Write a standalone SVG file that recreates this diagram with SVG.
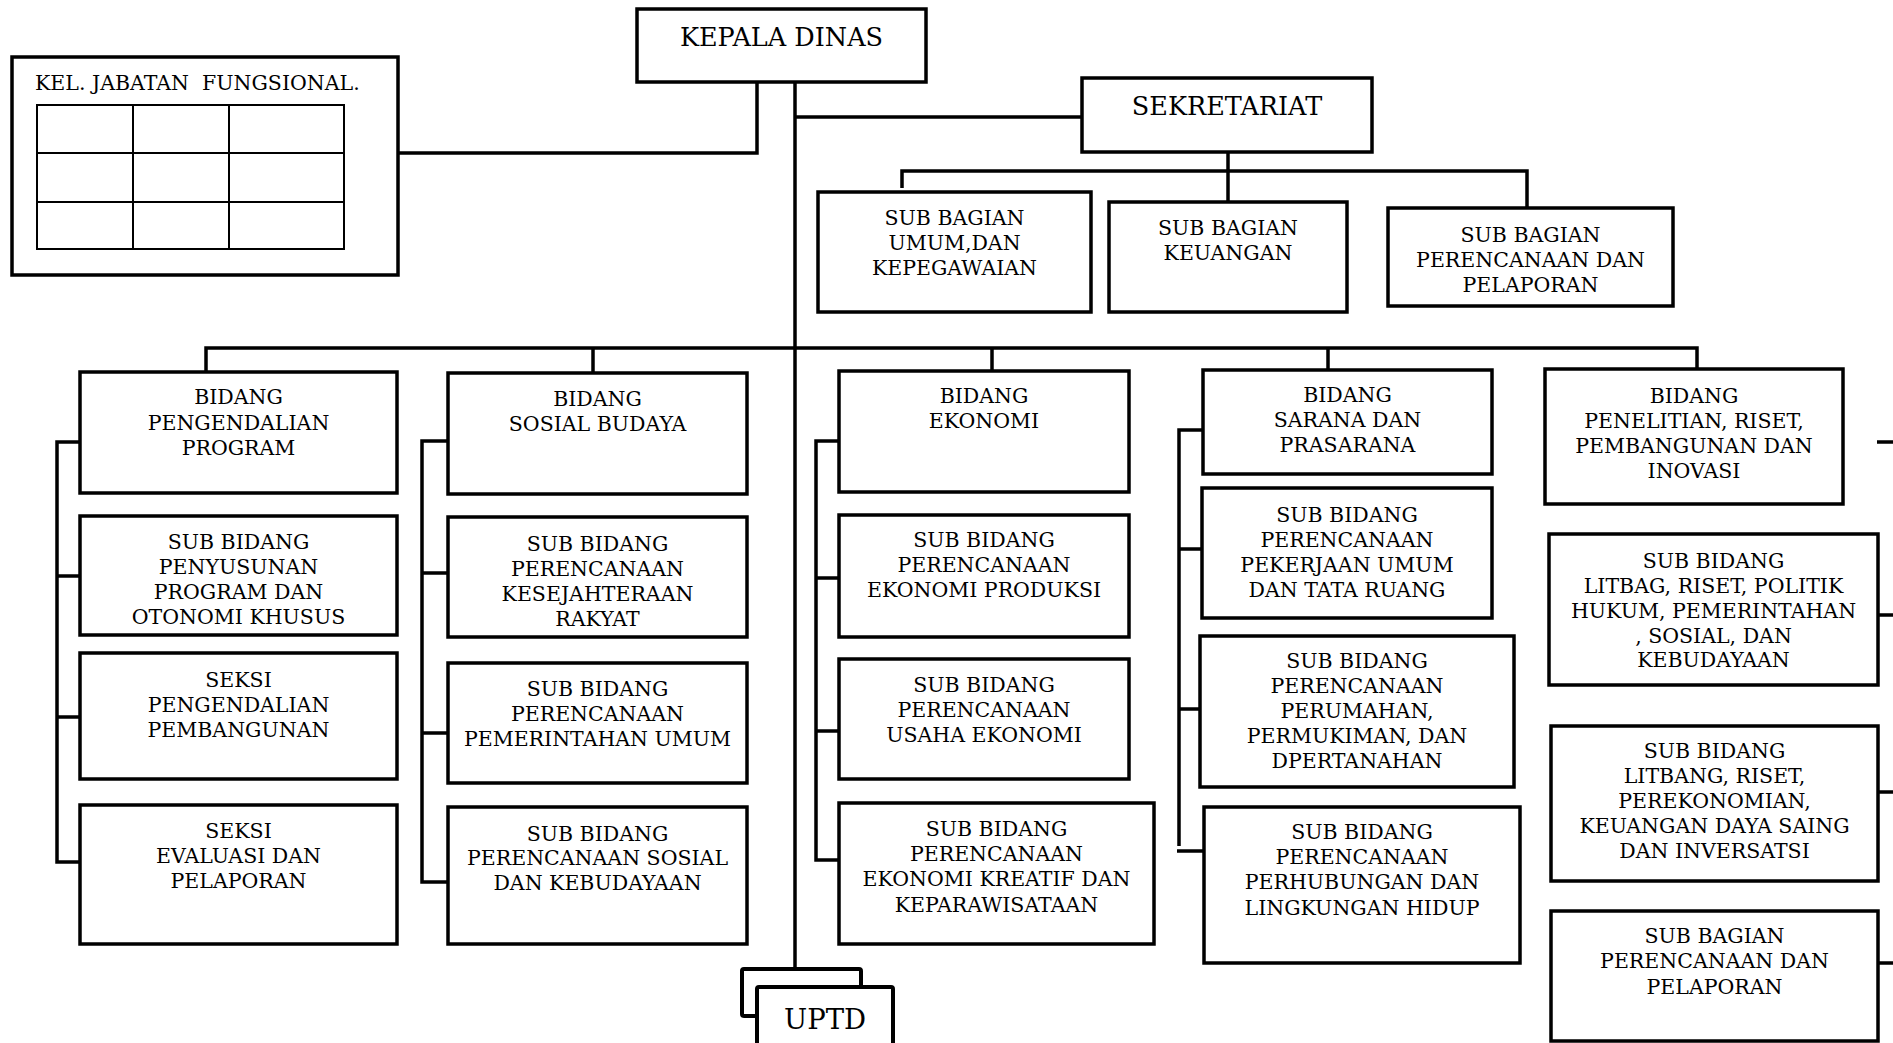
<svg xmlns="http://www.w3.org/2000/svg" width="1893" height="1043" viewBox="0 0 1893 1043">
<style>
.box{fill:#fff;stroke:#000;stroke-width:3.5}
.grid{fill:none;stroke:#000;stroke-width:2}
.con{fill:none;stroke:#000;stroke-width:3.5;stroke-linejoin:miter}
text{font-family:"DejaVu Serif","Liberation Serif",serif;font-size:20.5px;fill:#000;text-anchor:middle}
.big{font-size:25.5px}
.uptd{font-size:27.5px}
.left{text-anchor:start}
</style>
<rect width="1893" height="1043" fill="#fff"/>
<g id="connectors">
<path class="con" d="M398,153 H757 V82"/>
<path class="con" d="M795,82 V968"/>
<path class="con" d="M795,117 H1082"/>
<path class="con" d="M1228,152 V202"/>
<path class="con" d="M902,188 V171 H1527 V208"/>
<path class="con" d="M206,372 V348 H1697 V369"/>
<path class="con" d="M593,348 V373"/>
<path class="con" d="M992,348 V371"/>
<path class="con" d="M1328,348 V370"/>
<path class="con" d="M80,442 H57 V862 H80 M57,576 H80 M57,717 H80"/>
<path class="con" d="M448,441 H422 V882 H448 M422,573 H448 M422,733 H448"/>
<path class="con" d="M839,441 H816 V860 H839 M816,578 H839 M816,731 H839"/>
<path class="con" d="M1203,430 H1179 V846 M1179,549 H1202 M1179,709 H1200 M1177,851 H1204"/>
<path class="con" d="M1877,442 H1893 M1878,615 H1893 M1878,792 H1893 M1878,963 H1893"/>
</g>
<g id="kel-jabatan">
<rect class="box" x="12" y="57" width="386" height="218"/>
<text class="left" x="35" y="90" xml:space="preserve">KEL. JABATAN  FUNGSIONAL.</text>
<rect class="grid" x="37" y="105" width="307" height="144"/>
<path class="grid" d="M133,105 V249 M229,105 V249 M37,153 H344 M37,202 H344"/>
</g>
<g id="kepala-dinas">
<rect class="box" x="637" y="9" width="289" height="73"/>
<text class="big" x="781.5" y="46">KEPALA DINAS</text>
</g>
<g id="sekretariat">
<rect class="box" x="1082" y="78" width="290" height="74"/>
<text class="big" x="1227" y="115">SEKRETARIAT</text>
</g>
<g id="sub-bagian-umum">
<rect class="box" x="818" y="192" width="273" height="120"/>
<text x="954.5" y="225">SUB BAGIAN</text>
<text x="954.5" y="250">UMUM,DAN</text>
<text x="954.5" y="275">KEPEGAWAIAN</text>
</g>
<g id="sub-bagian-keuangan">
<rect class="box" x="1109" y="202" width="238" height="110"/>
<text x="1228" y="235">SUB BAGIAN</text>
<text x="1228" y="260">KEUANGAN</text>
</g>
<g id="sub-bagian-perencanaan-sek">
<rect class="box" x="1388" y="208" width="285" height="98"/>
<text x="1530.5" y="242">SUB BAGIAN</text>
<text x="1530.5" y="267">PERENCANAAN DAN</text>
<text x="1530.5" y="292">PELAPORAN</text>
</g>
<g id="bidang-pengendalian">
<rect class="box" x="80" y="372" width="317" height="121"/>
<text x="238.5" y="404">BIDANG</text>
<text x="238.5" y="430">PENGENDALIAN</text>
<text x="238.5" y="455">PROGRAM</text>
</g>
<g id="sub-bidang-penyusunan">
<rect class="box" x="80" y="516" width="317" height="119"/>
<text x="238.5" y="549">SUB BIDANG</text>
<text x="238.5" y="574">PENYUSUNAN</text>
<text x="238.5" y="599">PROGRAM DAN</text>
<text x="238.5" y="624">OTONOMI KHUSUS</text>
</g>
<g id="seksi-pengendalian">
<rect class="box" x="80" y="653" width="317" height="126"/>
<text x="238.5" y="687">SEKSI</text>
<text x="238.5" y="712">PENGENDALIAN</text>
<text x="238.5" y="737">PEMBANGUNAN</text>
</g>
<g id="seksi-evaluasi">
<rect class="box" x="80" y="805" width="317" height="139"/>
<text x="238.5" y="838">SEKSI</text>
<text x="238.5" y="863">EVALUASI DAN</text>
<text x="238.5" y="888">PELAPORAN</text>
</g>
<g id="bidang-sosial-budaya">
<rect class="box" x="448" y="373" width="299" height="121"/>
<text x="597.5" y="406">BIDANG</text>
<text x="597.5" y="431">SOSIAL BUDAYA</text>
</g>
<g id="sub-bidang-kesejahteraan">
<rect class="box" x="448" y="517" width="299" height="120"/>
<text x="597.5" y="551">SUB BIDANG</text>
<text x="597.5" y="576">PERENCANAAN</text>
<text x="597.5" y="601">KESEJAHTERAAN</text>
<text x="597.5" y="626">RAKYAT</text>
</g>
<g id="sub-bidang-pemerintahan">
<rect class="box" x="448" y="663" width="299" height="120"/>
<text x="597.5" y="696">SUB BIDANG</text>
<text x="597.5" y="721">PERENCANAAN</text>
<text x="597.5" y="746">PEMERINTAHAN UMUM</text>
</g>
<g id="sub-bidang-sosial">
<rect class="box" x="448" y="807" width="299" height="137"/>
<text x="597.5" y="841">SUB BIDANG</text>
<text x="597.5" y="865">PERENCANAAN SOSIAL</text>
<text x="597.5" y="890">DAN KEBUDAYAAN</text>
</g>
<g id="bidang-ekonomi">
<rect class="box" x="839" y="371" width="290" height="121"/>
<text x="984" y="403">BIDANG</text>
<text x="984" y="428">EKONOMI</text>
</g>
<g id="sub-bidang-ekonomi-produksi">
<rect class="box" x="839" y="515" width="290" height="122"/>
<text x="984" y="547">SUB BIDANG</text>
<text x="984" y="572">PERENCANAAN</text>
<text x="984" y="597">EKONOMI PRODUKSI</text>
</g>
<g id="sub-bidang-usaha-ekonomi">
<rect class="box" x="839" y="659" width="290" height="120"/>
<text x="984" y="692">SUB BIDANG</text>
<text x="984" y="717">PERENCANAAN</text>
<text x="984" y="742">USAHA EKONOMI</text>
</g>
<g id="sub-bidang-ekonomi-kreatif">
<rect class="box" x="839" y="803" width="315" height="141"/>
<text x="996.5" y="836">SUB BIDANG</text>
<text x="996.5" y="861">PERENCANAAN</text>
<text x="996.5" y="886">EKONOMI KREATIF DAN</text>
<text x="996.5" y="912">KEPARAWISATAAN</text>
</g>
<g id="bidang-sarana">
<rect class="box" x="1203" y="370" width="289" height="104"/>
<text x="1347.5" y="402">BIDANG</text>
<text x="1347.5" y="427">SARANA DAN</text>
<text x="1347.5" y="452">PRASARANA</text>
</g>
<g id="sub-bidang-pekerjaan-umum">
<rect class="box" x="1202" y="488" width="290" height="130"/>
<text x="1347" y="522">SUB BIDANG</text>
<text x="1347" y="547">PERENCANAAN</text>
<text x="1347" y="572">PEKERJAAN UMUM</text>
<text x="1347" y="597">DAN TATA RUANG</text>
</g>
<g id="sub-bidang-perumahan">
<rect class="box" x="1200" y="636" width="314" height="151"/>
<text x="1357" y="668">SUB BIDANG</text>
<text x="1357" y="693">PERENCANAAN</text>
<text x="1357" y="718">PERUMAHAN,</text>
<text x="1357" y="743">PERMUKIMAN, DAN</text>
<text x="1357" y="768">DPERTANAHAN</text>
</g>
<g id="sub-bidang-perhubungan">
<rect class="box" x="1204" y="807" width="316" height="156"/>
<text x="1362" y="839">SUB BIDANG</text>
<text x="1362" y="864">PERENCANAAN</text>
<text x="1362" y="889">PERHUBUNGAN DAN</text>
<text x="1362" y="915">LINGKUNGAN HIDUP</text>
</g>
<g id="bidang-penelitian">
<rect class="box" x="1545" y="369" width="298" height="135"/>
<text x="1694" y="403">BIDANG</text>
<text x="1694" y="428">PENELITIAN, RISET,</text>
<text x="1694" y="453">PEMBANGUNAN DAN</text>
<text x="1694" y="478">INOVASI</text>
</g>
<g id="sub-bidang-litbag">
<rect class="box" x="1549" y="534" width="329" height="151"/>
<text x="1713.5" y="568">SUB BIDANG</text>
<text x="1713.5" y="593">LITBAG, RISET, POLITIK</text>
<text x="1713.5" y="618">HUKUM, PEMERINTAHAN</text>
<text x="1713.5" y="643">, SOSIAL, DAN</text>
<text x="1713.5" y="667">KEBUDAYAAN</text>
</g>
<g id="sub-bidang-litbang">
<rect class="box" x="1551" y="726" width="327" height="155"/>
<text x="1714.5" y="758">SUB BIDANG</text>
<text x="1714.5" y="783">LITBANG, RISET,</text>
<text x="1714.5" y="808">PEREKONOMIAN,</text>
<text x="1714.5" y="833">KEUANGAN DAYA SAING</text>
<text x="1714.5" y="858">DAN INVERSATSI</text>
</g>
<g id="sub-bagian-perencanaan-litbang">
<rect class="box" x="1551" y="911" width="327" height="130"/>
<text x="1714.5" y="943">SUB BAGIAN</text>
<text x="1714.5" y="968">PERENCANAAN DAN</text>
<text x="1714.5" y="994">PELAPORAN</text>
</g>
<g id="uptd">
<rect class="box" x="742" y="969" width="119" height="47" rx="2" style="stroke-width:4"/>
<rect class="box" x="757" y="987" width="136" height="70" rx="2" style="stroke-width:4"/>
<text class="uptd" x="825" y="1029">UPTD</text>
</g>
</svg>
